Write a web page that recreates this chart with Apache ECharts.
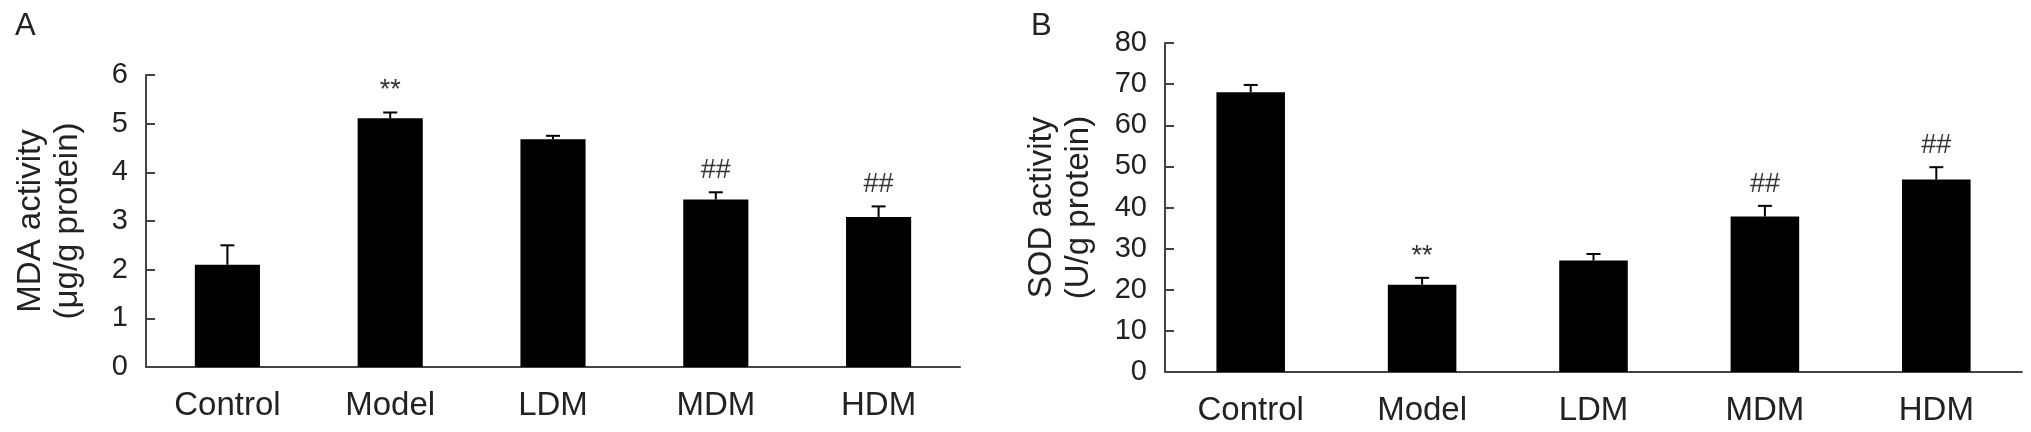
<!DOCTYPE html>
<html>
<head>
<meta charset="utf-8">
<script src="https://cdn.jsdelivr.net/npm/echarts@6/dist/echarts.min.js"></script>
<style>
  html, body { margin: 0; padding: 0; background: #fff; }
  #chart { width: 2031px; height: 432px; }
</style>
</head>
<body>
<div id="chart"></div>
<script>
// groups on the x axis
let categories = ['Control', 'Model', 'LDM', 'MDM', 'HDM'];

// panel A: MDA activity (μg/g protein)
let mdaMean = [2.10, 5.11, 4.68, 3.44, 3.08];
let mdaErr = [0.40, 0.12, 0.07, 0.15, 0.22];
let mdaMarks = ['', '**', '', '##', '##'];
let mdaTicks = { min: 0, max: 6, interval: 1 };

// panel B: SOD activity (U/g protein)
let sodMean = [68.0, 21.2, 27.1, 37.8, 46.8];
let sodErr = [1.8, 1.7, 1.6, 2.6, 3.0];
let sodMarks = ['', '**', '', '##', '##'];
let sodTicks = { min: 0, max: 80, interval: 10 };

let font = "'Liberation Sans', Arial, sans-serif";
let axisColor = '#444';
let textColor = '#222';

// error bar (upper half only) + significance mark above it
function errorBars(marks) {
    return function (params, api) {
        let idx = api.value(0);
        let mean = api.value(1);
        let err = api.value(2);
        let base = api.coord([idx, mean]);
        let top = api.coord([idx, mean + err]);
        let half = 7;
        let children = [
            { type: 'line', shape: { x1: base[0], y1: base[1], x2: top[0], y2: top[1] },
              style: { stroke: '#000', lineWidth: 2 } },
            { type: 'line', shape: { x1: top[0] - half, y1: top[1], x2: top[0] + half, y2: top[1] },
              style: { stroke: '#000', lineWidth: 2 } }
        ];
        let mark = marks[params.dataIndex];
        if (mark) {
            children.push({
                type: 'text',
                style: {
                    text: mark, x: top[0], y: top[1] - 8,
                    align: 'center', verticalAlign: 'bottom',
                    font: '27px ' + font, fill: '#333'
                }
            });
        }
        return { type: 'group', children: children };
    };
}

function xAxisFor(gridIndex) {
    return {
        type: 'category',
        gridIndex: gridIndex,
        data: categories,
        axisLine: { lineStyle: { color: axisColor, width: 2 } },
        axisTick: { inside: true, length: 8, lineStyle: { color: axisColor, width: 2 } },
        axisLabel: { margin: 22, fontSize: 33, fontFamily: font, color: textColor }
    };
}

function yAxisFor(gridIndex, ticks, title, gap) {
    return {
        type: 'value',
        gridIndex: gridIndex,
        min: ticks.min,
        max: ticks.max,
        interval: ticks.interval,
        splitLine: { show: false },
        axisLine: { show: true, lineStyle: { color: axisColor, width: 2 } },
        axisTick: { show: true, inside: true, length: 9, lineStyle: { color: axisColor, width: 2 } },
        axisLabel: { margin: 18, fontSize: 29, fontFamily: font, color: textColor },
        name: title,
        nameLocation: 'middle',
        nameRotate: 90,
        nameGap: gap,
        nameTextStyle: { fontSize: 33, fontFamily: font, color: textColor, lineHeight: 37 }
    };
}

let myChart = echarts.init(document.getElementById('chart'));

let option = {
    animation: false,
    title: [
        { text: 'A', left: 10, top: 6, textStyle: { fontSize: 31, fontWeight: 'normal', fontFamily: font, color: textColor } },
        { text: 'B', left: 1026, top: 6, textStyle: { fontSize: 31, fontWeight: 'normal', fontFamily: font, color: textColor } }
    ],
    grid: [
        { left: 146, right: 1071, top: 75, bottom: 65 },
        { left: 1165, right: 9, top: 43, bottom: 60 }
    ],
    xAxis: [xAxisFor(0), xAxisFor(1)],
    yAxis: [
        yAxisFor(0, mdaTicks, 'MDA activity\n(μg/g protein)', 60),
        yAxisFor(1, sodTicks, 'SOD activity\n(U/g protein)', 68)
    ],
    series: [
        {
            type: 'bar', xAxisIndex: 0, yAxisIndex: 0,
            barWidth: '40%', itemStyle: { color: '#000' },
            data: mdaMean
        },
        {
            type: 'custom', xAxisIndex: 0, yAxisIndex: 0, z: 5,
            renderItem: errorBars(mdaMarks),
            data: mdaMean.map(function (v, i) { return [i, v, mdaErr[i]]; })
        },
        {
            type: 'bar', xAxisIndex: 1, yAxisIndex: 1,
            barWidth: '40%', itemStyle: { color: '#000' },
            data: sodMean
        },
        {
            type: 'custom', xAxisIndex: 1, yAxisIndex: 1, z: 5,
            renderItem: errorBars(sodMarks),
            data: sodMean.map(function (v, i) { return [i, v, sodErr[i]]; })
        }
    ]
};

myChart.setOption(option);
window.addEventListener('resize', function () {
    myChart.resize();
});
</script>
</body>
</html>
